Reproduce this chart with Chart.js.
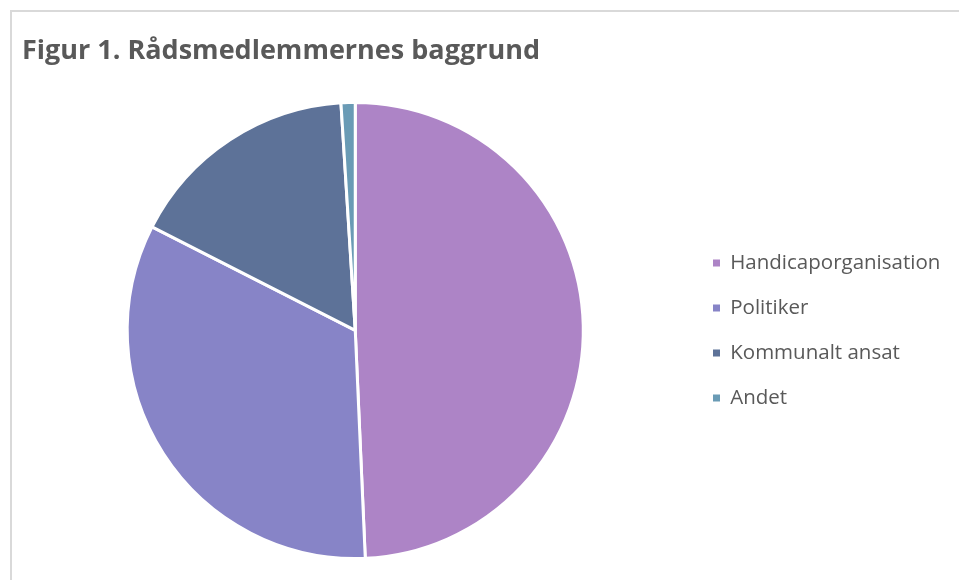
<!DOCTYPE html>
<html>
<head>
<meta charset="utf-8">
<script src="https://cdn.jsdelivr.net/npm/chart.js@4/dist/chart.umd.min.js"></script>
<style>
    body { margin: 0; background: #fff; }
    #frame { position: absolute; left: 10px; top: 10px; width: 960px; height: 580px;
             border-top: 2px solid #d9d9d9; border-left: 2px solid #d9d9d9; }
    #chart { position: absolute; left: 0; top: 0; }
</style>
</head>
<body>
<div id="frame"></div>
<canvas id="chart" width="959" height="580"></canvas>
<script>
(function() {
    // Chart data
    const categories = ['Handicaporganisation', 'Politiker', 'Kommunalt ansat', 'Andet'];
    const shares = [49.3, 33.2, 16.5, 1.0];
    const sliceColors = ['#ad84c6', '#8784c7', '#5d7298', '#6a9bb5'];
    const titleText = 'Figur 1. Rådsmedlemmernes baggrund';

    const textColor = '#595959';
    const legendFont = {family: '"Open Sans", sans-serif', size: 20.5};
    const boxW = 7;
    const legendPad = 24.5;

    // measure the longest label so the legend lands where it should
    let ctx = document.createElement('canvas').getContext('2d');
    ctx.font = legendFont.size + 'px ' + legendFont.family;
    let maxText = 0;
    categories.forEach(function(c) { maxText = Math.max(maxText, ctx.measureText(c).width); });
    const legendWidth = legendPad + boxW + legendFont.size / 2 + maxText + 10;
    const legendLeft = 688.5;
    const rightPad = Math.max(0, 959 - legendLeft - legendWidth);

    // default pie legend labels, but without the white slice border eating the boxes
    const defaultLabels = Chart.overrides.pie.plugins.legend.labels.generateLabels;

    new Chart(document.getElementById('chart'), {
        type: 'pie',
        data: {
            labels: categories,
            datasets: [{
                data: shares,
                backgroundColor: sliceColors,
                borderColor: '#ffffff',
                borderWidth: 3
            }]
        },
        options: {
            responsive: false,
            animation: false,
            events: [],
            layout: { padding: { left: 22, right: rightPad, top: 0, bottom: 20 } },
            plugins: {
                title: {
                    display: true,
                    text: titleText,
                    align: 'start',
                    color: textColor,
                    font: {family: '"Open Sans", sans-serif', size: 27, weight: 'bold', lineHeight: 1.2},
                    padding: {top: 35, bottom: 33.5}
                },
                legend: {
                    position: 'right',
                    fullSize: false,
                    labels: {
                        color: textColor,
                        font: legendFont,
                        boxWidth: boxW,
                        boxHeight: 7,
                        padding: legendPad,
                        generateLabels: function(chart) {
                            return defaultLabels(chart).map(function(item) {
                                item.lineWidth = 0;
                                return item;
                            });
                        }
                    }
                },
                tooltip: { enabled: false }
            }
        }
    });
})();
</script>
</body>
</html>
